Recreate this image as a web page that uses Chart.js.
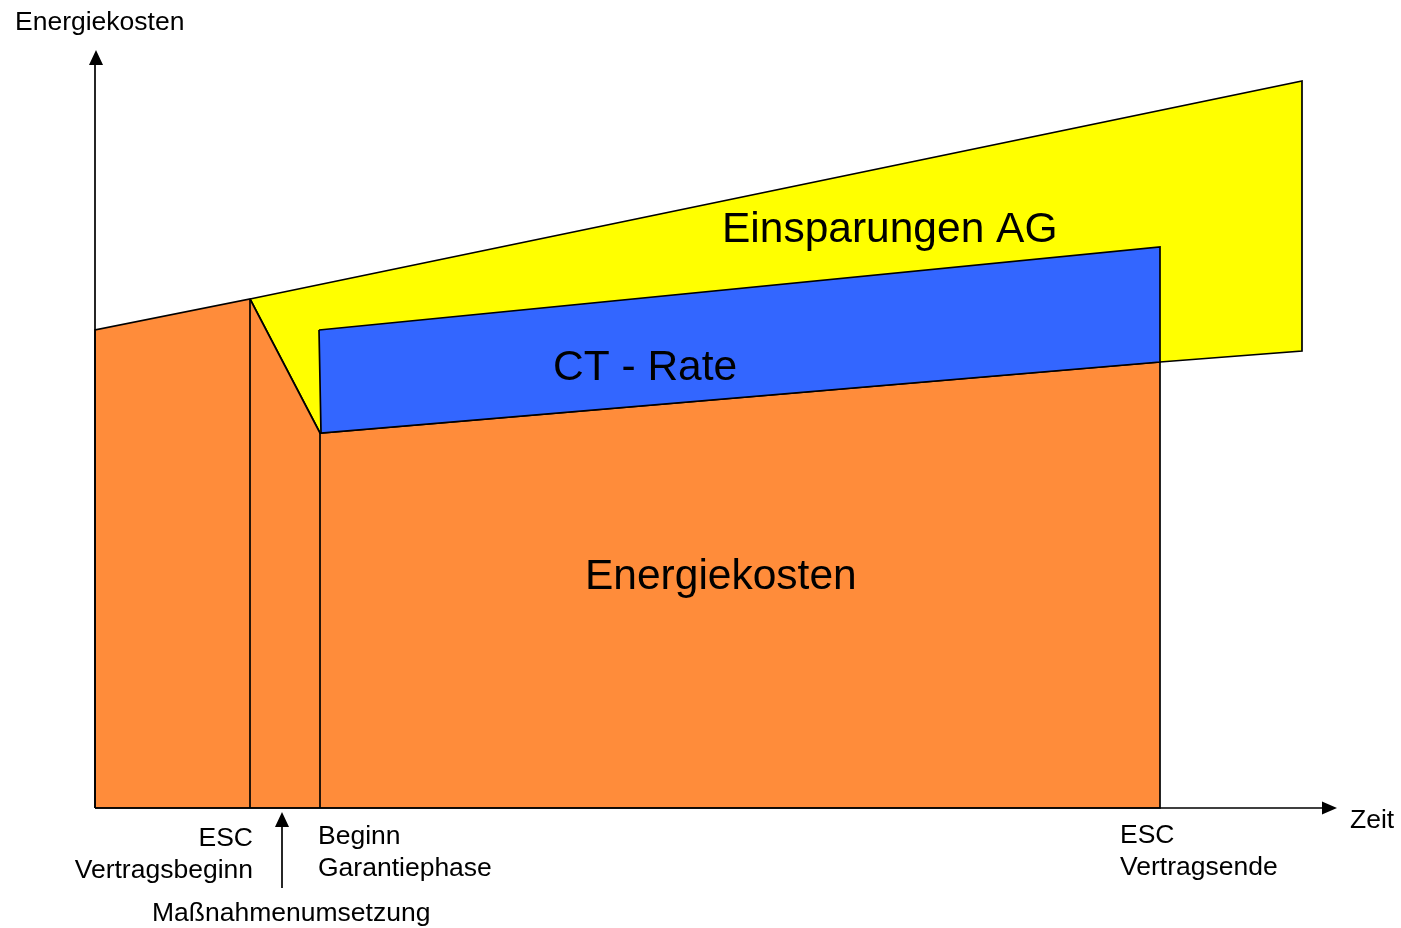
<!DOCTYPE html>
<html>
<head>
<meta charset="utf-8">
<script src="https://cdn.jsdelivr.net/npm/chart.js@4/dist/chart.umd.min.js"></script>
<style>
  html, body { margin: 0; padding: 0; background: #fff; }
</style>
</head>
<body>
<canvas id="chart" width="1401" height="928"></canvas>
<script>
// Schematic values (time on x, energy cost on y)
const energyX = [0, 0, 155, 225, 1065, 1065];
const energyY = [0, 478, 509, 375, 446, 0];
const savingsX = [155, 1207, 1207, 1065, 225];
const savingsY = [509, 727, 457, 446, 375];
const rateX = [224, 1065, 1065, 226];
const rateY = [478, 561, 446, 375];
const milestoneX = [155, 225];
const milestoneTop = [509, 375];

const xMax = 1242;
const yMax = 758;

// Text labels: [text, x, y, size, align]
const areaLabels = [
    ['Einsparungen AG', 627, 578, 42.5, 'left'],
    ['CT - Rate', 458, 440, 42.5, 'left'],
    ['Energiekosten', 490, 231, 42.5, 'left']
];
const axisLabels = [
    ['Energiekosten', -80, 785, 26.5, 'left'],
    ['Zeit', 1255, -13, 26.5, 'left'],
    ['ESC', 158, -31, 26.5, 'right'],
    ['Vertragsbeginn', 158, -63, 26.5, 'right'],
    ['Beginn', 223, -29, 26.5, 'left'],
    ['Garantiephase', 223, -61, 26.5, 'left'],
    ['ESC', 1025, -28, 26.5, 'left'],
    ['Vertragsende', 1025, -60, 26.5, 'left'],
    ['Maßnahmenumsetzung', 57, -106, 26.5, 'left']
];

function polygon(xs, ys) {
    const pts = xs.map((x, i) => ({ x: x, y: ys[i] }));
    pts.push(pts[0]); // close the shape
    return pts;
}

const datasets = [
    {
        data: polygon(rateX, rateY),
        backgroundColor: '#3366FF',
        fill: 'shape',
        order: 0
    },
    {
        data: polygon(energyX, energyY),
        backgroundColor: '#FF8C3A',
        fill: 'shape',
        order: 2
    },
    {
        data: polygon(savingsX, savingsY),
        backgroundColor: '#FFFF00',
        fill: 'shape',
        order: 3
    }
];
milestoneX.forEach((x, i) => {
    datasets.push({
        data: [{ x: x, y: 0 }, { x: x, y: milestoneTop[i] }],
        fill: false,
        order: 1
    });
});
datasets.forEach(d => {
    d.borderColor = '#000';
    d.borderWidth = 1.7;
    d.pointRadius = 0;
    d.showLine = true;
    d.tension = 0;
});

function drawText(ctx, chart, list) {
    const xs = chart.scales.x, ys = chart.scales.y;
    ctx.fillStyle = '#000';
    ctx.textBaseline = 'middle';
    list.forEach(l => {
        ctx.font = l[3] + 'px "Liberation Sans", Arial, sans-serif';
        ctx.textAlign = l[4];
        ctx.fillText(l[0], xs.getPixelForValue(l[1]), ys.getPixelForValue(l[2]));
    });
}

function arrowHead(ctx, tipX, tipY, dx, dy, len, half) {
    // dx, dy: unit direction the arrow points to
    const bx = tipX - dx * len, by = tipY - dy * len;
    ctx.beginPath();
    ctx.moveTo(tipX, tipY);
    ctx.lineTo(bx - dy * half, by + dx * half);
    ctx.lineTo(bx + dy * half, by - dx * half);
    ctx.closePath();
    ctx.fill();
}

const decorations = {
    id: 'decorations',
    afterDatasetsDraw(chart) {
        const ctx = chart.ctx;
        const xs = chart.scales.x, ys = chart.scales.y;
        const x0 = xs.getPixelForValue(0), y0 = ys.getPixelForValue(0);
        const x1 = xs.getPixelForValue(xMax), y1 = ys.getPixelForValue(yMax);
        ctx.save();
        ctx.strokeStyle = '#000';
        ctx.fillStyle = '#000';
        ctx.lineWidth = 1.7;
        // axes
        ctx.beginPath();
        ctx.moveTo(x0, y0);
        ctx.lineTo(x0, y1 + 10);
        ctx.moveTo(x0, y0);
        ctx.lineTo(x1 - 10, y0);
        ctx.stroke();
        arrowHead(ctx, x0 + 1, y1, 0, -1, 15, 7);
        arrowHead(ctx, x1, y0, 1, 0, 15, 6.5);
        // Maßnahmenumsetzung arrow
        const ax = xs.getPixelForValue(187);
        ctx.beginPath();
        ctx.moveTo(ax, ys.getPixelForValue(-80));
        ctx.lineTo(ax, ys.getPixelForValue(-14));
        ctx.stroke();
        arrowHead(ctx, ax, ys.getPixelForValue(-4), 0, -1, 15, 7);
        drawText(ctx, chart, areaLabels);
        drawText(ctx, chart, axisLabels);
        ctx.restore();
    }
};

new Chart(document.getElementById('chart').getContext('2d'), {
    type: 'scatter',
    data: { datasets: datasets },
    options: {
        responsive: false,
        animation: false,
        clip: false,
        layout: { padding: { left: 95, right: 64, top: 50, bottom: 120 } },
        scales: {
            x: { type: 'linear', min: 0, max: xMax, display: false },
            y: { type: 'linear', min: 0, max: yMax, display: false }
        },
        plugins: {
            legend: { display: false },
            tooltip: { enabled: false }
        }
    },
    plugins: [decorations]
});
</script>
</body>
</html>
